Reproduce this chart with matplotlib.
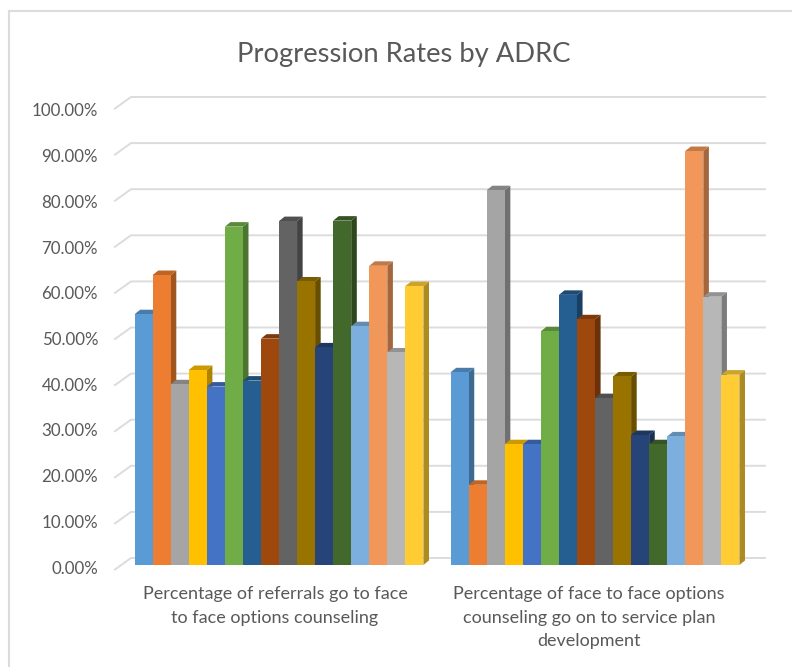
import matplotlib
matplotlib.use('Agg')
import matplotlib.pyplot as plt
from matplotlib.colors import to_rgb

plt.rcParams['font.family'] = ['Lato', 'DejaVu Sans']

categories = ['Percentage of referrals go to face\nto face options counseling',
              'Percentage of face to face options\ncounseling go on to service plan\ndevelopment']
referrals = [54.4, 62.9, 39.2, 42.3, 38.7, 73.4, 40.0, 49.1,
             74.6, 61.5, 47.2, 74.7, 51.8, 64.9, 46.1, 60.5]
face_to_face = [41.8, 17.4, 81.3, 26.2, 26.2, 50.7, 58.6, 53.3,
                36.2, 40.9, 28.2, 26.2, 27.9, 89.8, 58.2, 41.3]
tick_values = [0, 10, 20, 30, 40, 50, 60, 70, 80, 90, 100]
colors = ['#5B9BD5', '#ED7D31', '#A5A5A5', '#FFC000', '#4472C4', '#70AD47', '#255E91', '#9E480E',
          '#636363', '#997300', '#264478', '#43682B', '#7CAFDD', '#F1975A', '#B7B7B7', '#FFCD33']

W, H = 792, 667
LEFT, RIGHT = 121, 753
ZERO, TOP = 565, 104
BOTTOM = 580  # axes run a bit under zero so the tick labels can sit lower than the bars
CAT_PX = 316
BAR_PX = 18.05
PX_PER_VAL = (ZERO - TOP) / 100
TEXT = '#595959'
GRID = '#dcdcdc'


def px_x(px):
    return (px - LEFT) / CAT_PX - 0.5


def px_y(px):
    return (ZERO - px) / PX_PER_VAL


def shade(color, k):
    return tuple(c * k for c in to_rgb(color))


def draw_group(ax, center, values):
    bw = BAR_PX / CAT_PX
    dx = 5.6 / CAT_PX
    dy = 4.5 / PX_PER_VAL
    for i, (v, c) in enumerate(zip(values, colors)):
        x0 = center + (i - 8) * bw
        z = 3 + i * 0.01
        ax.fill([x0 + bw, x0 + bw + dx, x0 + bw + dx, x0 + bw],
                [0, dy, v + dy, v], color=shade(c, 0.68), lw=0, zorder=z, clip_on=False)
        ax.fill([x0, x0 + dx, x0 + bw + dx, x0 + bw],
                [v, v + dy, v + dy, v], color=shade(c, 0.8), lw=0, zorder=z, clip_on=False)
        ax.bar(x0, v, bw, align='edge', color=c, lw=0, zorder=z + 0.005, clip_on=False)


def main():
    fig = plt.figure(figsize=(W / 100, H / 100), dpi=100)
    ax = fig.add_axes([LEFT / W, 1 - BOTTOM / H, (RIGHT - LEFT) / W, (BOTTOM - TOP) / H])
    for s in ax.spines.values():
        s.set_visible(False)

    # chart frame, only the left and top edges are inside the crop
    ax.plot([px_x(9), px_x(9), px_x(792)], [px_y(667), px_y(11), px_y(11)], color=GRID,
            lw=1.5, clip_on=False, zorder=1, solid_joinstyle='miter')

    # wall gridlines sit behind the bars, offset up and to the right
    for v in tick_values:
        back = px_y(558 - PX_PER_VAL * v)
        front = px_y(569.5 - PX_PER_VAL * v)
        ax.plot([px_x(115), px_x(131), px_x(765)], [front, back, back], color=GRID,
                lw=1.4, zorder=1, clip_on=False, solid_joinstyle='miter')

    draw_group(ax, 0, referrals)
    draw_group(ax, 1, face_to_face)

    ax.set_yticks([px_y(567 - 4.57 * v) for v in tick_values],
                  ['%.2f%%' % v for v in tick_values])
    ax.set_xticks([px_x(275), px_x(589)], categories)
    ax.tick_params(axis='y', length=0, pad=16.5, labelsize=12.2, labelcolor=TEXT)
    ax.tick_params(axis='x', length=0, pad=4.2, labelsize=13, labelcolor=TEXT)
    for t in ax.get_xticklabels():
        t.set_linespacing(1.6)

    # set_yticks can widen the view, so fix the limits last
    ax.set_xlim(-0.5, 1.5)
    ax.set_ylim(px_y(BOTTOM), 100)

    fig.text(404 / W, 1 - 54.5 / H, 'Progression Rates by ADRC', color=TEXT, fontsize=19.7,
             ha='center', va='center')
    fig.savefig('out.png', dpi=100)


if __name__ == '__main__':
    main()
